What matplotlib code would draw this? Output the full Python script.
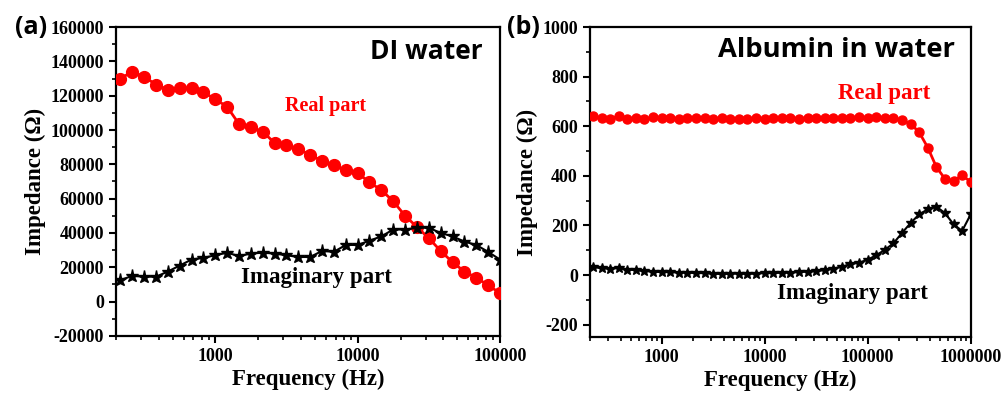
import numpy as np
import matplotlib
matplotlib.use("Agg")
import matplotlib.pyplot as plt
from matplotlib.ticker import MultipleLocator, LogLocator, NullFormatter

# frequency sweep, 12 points per decade
freq_a = np.logspace(np.log10(215), 5, 33)
freq_b = np.logspace(np.log10(215), 6, 45)

# (a) DI water
real_a = [130000, 134000, 131000, 126500, 123500, 124500, 124500, 122000, 118000, 113500,
          103500, 101500, 99000, 92500, 91000, 89000, 85500, 82000, 79500, 76500,
          75000, 69500, 65000, 58500, 50000, 43500, 37000, 29500, 23000, 17500,
          14000, 9500, 5000]
imag_a = [12500, 15000, 14500, 14500, 17500, 21000, 24500, 25500, 27000, 28500,
          26500, 28000, 28500, 28000, 27000, 26000, 26000, 29500, 29000, 33000,
          33000, 35500, 38000, 42000, 42000, 43000, 43000, 40000, 38000, 35000,
          33000, 29000, 24500]

# (b) Albumin in water
real_b = [640, 632, 630, 640, 630, 632, 628, 636, 634, 632,
          630, 632, 634, 632, 630, 632, 630, 628, 630, 632,
          630, 632, 634, 632, 630, 632, 632, 634, 634, 632,
          634, 636, 634, 636, 634, 632, 624, 610, 576, 514,
          436, 388, 380, 402, 376]
imag_b = [32, 28, 26, 28, 22, 20, 16, 14, 12, 12,
          10, 10, 8, 8, 6, 4, 6, 6, 5, 6,
          8, 8, 10, 10, 12, 14, 16, 20, 26, 34,
          44, 50, 62, 80, 102, 128, 170, 210, 245, 265,
          276, 250, 205, 178, 245]

xt_a = [1000, 10000, 100000]
xt_b = [1000, 10000, 100000, 1000000]

plt.rcParams['font.family'] = ['Liberation Serif', 'DejaVu Serif']
plt.rcParams['font.weight'] = 'bold'
plt.rcParams['axes.unicode_minus'] = False

fig = plt.figure(figsize=(10.08, 3.98), dpi=100)
ax1 = fig.add_axes([0.115, 0.156, 0.381, 0.776])
ax2 = fig.add_axes([0.585, 0.153, 0.378, 0.779])


def style(ax, xt):
    ax.set_xscale("log")
    for s in ax.spines.values():
        s.set_linewidth(1.6)
    ax.tick_params(which="major", direction="out", length=5, width=1.5, labelsize=13)
    ax.tick_params(which="minor", direction="out", length=3, width=1.2)
    ax.set_xticks(xt)
    ax.set_xticklabels([str(v) for v in xt])
    ax.xaxis.set_minor_locator(LogLocator(base=10, subs=np.arange(2, 10), numticks=20))
    ax.xaxis.set_minor_formatter(NullFormatter())
    ax.set_xlabel("Frequency (Hz)", fontsize=16.5, fontweight="bold", labelpad=3)
    ax.set_ylabel("Impedance (\u03a9)", fontsize=16.5, fontweight="bold", labelpad=3)


# panel a
ax1.plot(freq_a, real_a, color="red", lw=2, marker="o", ms=8.5, mec="red", zorder=3)
ax1.plot(freq_a, imag_a, color="black", lw=1.5, marker="*", ms=9.5, zorder=3)
style(ax1, xt_a)
ax1.set_xlim(200, 100000)
ax1.set_ylim(-20000, 160000)
ax1.yaxis.set_major_locator(MultipleLocator(20000))
ax1.yaxis.set_minor_locator(MultipleLocator(10000))
ax1.text(5900, 114000, "Real part", color="red", fontsize=14.5, fontweight="bold",
         ha="center", va="center")
ax1.text(5150, 13800, "Imaginary part", color="black", fontsize=16.5, fontweight="bold",
         ha="center", va="center")
ax1.text(0.956, 0.92, "DI water", transform=ax1.transAxes, family="Open Sans",
         fontsize=19, fontweight="bold", ha="right", va="center")

# panel b
ax2.plot(freq_b, real_b, color="red", lw=2, marker="o", ms=6.5, mec="red", zorder=3)
ax2.plot(freq_b, imag_b, color="black", lw=1.5, marker="*", ms=7.5, zorder=3)
style(ax2, xt_b)
ax2.set_xlim(200, 1000000)
ax2.set_ylim(-250, 1000)
ax2.yaxis.set_major_locator(MultipleLocator(200))
ax2.yaxis.set_minor_locator(MultipleLocator(100))
ax2.text(143000, 732, "Real part", color="red", fontsize=16.5, fontweight="bold",
         ha="center", va="center")
ax2.text(71500, -76, "Imaginary part", color="black", fontsize=16.5, fontweight="bold",
         ha="center", va="center")
ax2.text(0.958, 0.926, "Albumin in water", transform=ax2.transAxes, family="Open Sans",
         fontsize=19.7, fontweight="bold", ha="right", va="center")

fig.text(0.015, 0.93, "(a)", family="Open Sans", fontsize=18, fontweight="bold",
         ha="left", va="center")
fig.text(0.503, 0.93, "(b)", family="Open Sans", fontsize=18, fontweight="bold",
         ha="left", va="center")

fig.savefig("out.png", dpi=100)
